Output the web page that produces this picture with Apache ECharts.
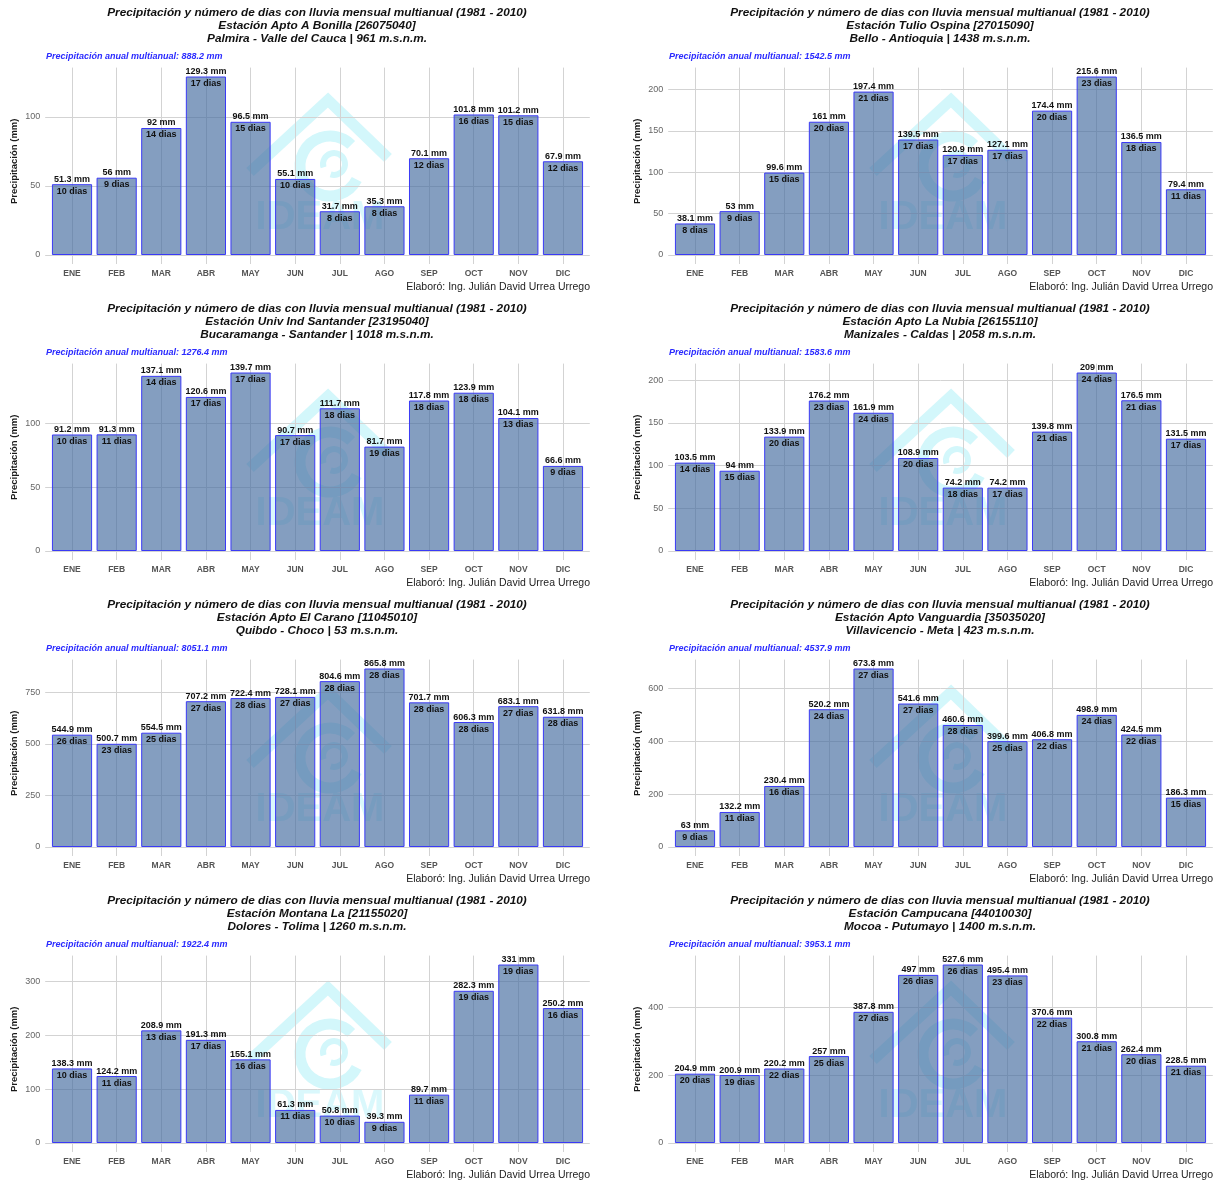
<!DOCTYPE html>
<html><head><meta charset="utf-8">
<script src="https://cdn.jsdelivr.net/npm/echarts@6/dist/echarts.min.js"></script>
<style>html,body{margin:0;padding:0;background:#fff}#c{width:1221px;height:1181px}</style>
</head><body><div id="c"></div><script>
const months = ['ENE','FEB','MAR','ABR','MAY','JUN','JUL','AGO','SEP','OCT','NOV','DIC'];

const bonilla_mm   = [51.3, 56, 92, 129.3, 96.5, 55.1, 31.7, 35.3, 70.1, 101.8, 101.2, 67.9];
const bonilla_days = [10, 9, 14, 17, 15, 10, 8, 8, 12, 16, 15, 12];
const ospina_mm    = [38.1, 53, 99.6, 161, 197.4, 139.5, 120.9, 127.1, 174.4, 215.6, 136.5, 79.4];
const ospina_days  = [8, 9, 15, 20, 21, 17, 17, 17, 20, 23, 18, 11];
const uis_mm       = [91.2, 91.3, 137.1, 120.6, 139.7, 90.7, 111.7, 81.7, 117.8, 123.9, 104.1, 66.6];
const uis_days     = [10, 11, 14, 17, 17, 17, 18, 19, 18, 18, 13, 9];
const nubia_mm     = [103.5, 94, 133.9, 176.2, 161.9, 108.9, 74.2, 74.2, 139.8, 209, 176.5, 131.5];
const nubia_days   = [14, 15, 20, 23, 24, 20, 18, 17, 21, 24, 21, 17];
const carano_mm    = [544.9, 500.7, 554.5, 707.2, 722.4, 728.1, 804.6, 865.8, 701.7, 606.3, 683.1, 631.8];
const carano_days  = [26, 23, 25, 27, 28, 27, 28, 28, 28, 28, 27, 28];
const vanguardia_mm   = [63, 132.2, 230.4, 520.2, 673.8, 541.6, 460.6, 399.6, 406.8, 498.9, 424.5, 186.3];
const vanguardia_days = [9, 11, 16, 24, 27, 27, 28, 25, 22, 24, 22, 15];
const montana_mm   = [138.3, 124.2, 208.9, 191.3, 155.1, 61.3, 50.8, 39.3, 89.7, 282.3, 331, 250.2];
const montana_days = [10, 11, 13, 17, 16, 11, 10, 9, 11, 19, 19, 16];
const campucana_mm   = [204.9, 200.9, 220.2, 257, 387.8, 497, 527.6, 495.4, 370.6, 300.8, 262.4, 228.5];
const campucana_days = [20, 19, 22, 25, 27, 26, 26, 23, 22, 21, 20, 21];

const stationNames = ['Estación Apto A Bonilla [26075040]','Estación Tulio Ospina [27015090]','Estación Univ Ind Santander [23195040]','Estación Apto La Nubia [26155110]','Estación Apto El Carano [11045010]','Estación Apto Vanguardia [35035020]','Estación Montana La [21155020]','Estación Campucana [44010030]'];
const stationPlaces = ['Palmira - Valle del Cauca | 961 m.s.n.m.','Bello - Antioquia | 1438 m.s.n.m.','Bucaramanga - Santander | 1018 m.s.n.m.','Manizales - Caldas | 2058 m.s.n.m.','Quibdo - Choco | 53 m.s.n.m.','Villavicencio - Meta | 423 m.s.n.m.','Dolores - Tolima | 1260 m.s.n.m.','Mocoa - Putumayo | 1400 m.s.n.m.'];
const annualTotals = ['888.2','1542.5','1276.4','1583.6','8051.1','4537.9','1922.4','3953.1'];
const mmSeries = [bonilla_mm, ospina_mm, uis_mm, nubia_mm, carano_mm, vanguardia_mm, montana_mm, campucana_mm];
const daySeries = [bonilla_days, ospina_days, uis_days, nubia_days, carano_days, vanguardia_days, montana_days, campucana_days];
const yTickSteps = [50, 50, 50, 50, 250, 200, 100, 200];

const mainTitle = 'Precipitación y número de dias con lluvia mensual multianual (1981 - 2010)';
const footerText = 'Elaboró: Ing. Julián David Urrea Urrego';
const FONT = '"Liberation Sans", Arial, sans-serif';
const GRIDC = '#d3d3d3';
const halfPoints = Array.from({length: 25}, () => '');

const grid = [], xAxis = [], yAxis = [], series = [], graphic = [];

for (let p = 0; p < 8; p++) {
  const col = p % 2, row = Math.floor(p / 2);
  const ox = col * 623, oy = row * 296;
  const mm = mmSeries[p], days = daySeries[p];
  const step = yTickSteps[p];
  const ymax = Math.max(...mm) * 1.05;
  const nTicks = Math.floor(ymax / step) + 1;
  const splitColors = Array(nTicks).fill(GRIDC).concat(['rgba(0,0,0,0)']);
  const top = oy + 67.6, height = 187.4;
  const gA = grid.length;
  grid.push({left: ox + 45.2, width: 544.6, top: top, height: height, containLabel: false});
  grid.push({left: ox + 49.7, width: 535.6, top: top, height: height, containLabel: false});
  const gB = gA + 1;
  xAxis.push({gridIndex: gA, type: 'value', min: 0, max: 1, show: false});
  yAxis.push({gridIndex: gA, type: 'value', min: 0, max: ymax, interval: step,
    name: 'Precipitación (mm)', nameLocation: 'middle', nameGap: 26,
    nameTextStyle: {fontFamily: FONT, fontWeight: 'bold', fontSize: 9.5, color: '#1a1a1a'},
    axisLine: {show: false}, axisTick: {show: false},
    axisLabel: {showMaxLabel: false, fontFamily: FONT, fontSize: 9, color: '#666', margin: 5},
    splitLine: {show: true, lineStyle: {color: splitColors, width: 1}}});
  const xB = xAxis.length;
  xAxis.push({gridIndex: gB, type: 'category', data: months, position: 'bottom',
    axisLine: {show: false}, axisTick: {show: false}, splitLine: {show: false},
    axisLabel: {fontFamily: FONT, fontWeight: 'bold', fontSize: 8.5, color: '#555', margin: 14}});
  xAxis.push({gridIndex: gB, type: 'category', data: halfPoints, boundaryGap: false, position: 'bottom',
    axisLine: {show: false}, axisLabel: {show: false},
    axisTick: {show: true, length: 9, interval: (i) => i % 2 === 1, lineStyle: {color: GRIDC}},
    splitLine: {show: true, interval: (i) => i % 2 === 1, lineStyle: {color: GRIDC, width: 1}}});
  const yB = yAxis.length;
  yAxis.push({gridIndex: gB, type: 'value', min: 0, max: ymax, interval: step, show: false, splitLine: {show: false}});

  series.push({type: 'bar', xAxisIndex: xB, yAxisIndex: yB, data: mm, barCategoryGap: '10%', z: 3,
    itemStyle: {color: 'rgba(66,106,158,0.65)', borderColor: '#3a3af5', borderWidth: 1},
    label: {show: true, position: 'top', distance: 0, offset: [0, 13],
      formatter: (prm) => '{a|' + prm.value + ' mm}\n{b|' + days[prm.dataIndex] + ' dias}',
      rich: {
        a: {fontFamily: FONT, fontWeight: 'bold', fontSize: 9, lineHeight: 12, color: '#111'},
        b: {fontFamily: FONT, fontWeight: 'bold', fontSize: 9, lineHeight: 12, color: '#111'}
      }}
  });

  const wc = '#d3f7fb';
  graphic.push({type: 'group', x: ox, y: oy, z: 1, silent: true, children: [
    {type: 'polyline', shape: {points: [[250, 172], [328, 100], [388, 158]]}, style: {stroke: wc, lineWidth: 11, fill: null, lineJoin: 'miter'}},
    {type: 'arc', shape: {cx: 330, cy: 166, r: 30, startAngle: Math.PI * 0.15, endAngle: Math.PI * 1.75}, style: {stroke: wc, lineWidth: 11, fill: null}},
    {type: 'arc', shape: {cx: 334, cy: 164, r: 11, startAngle: Math.PI * 0.9, endAngle: Math.PI * 2.6}, style: {stroke: wc, lineWidth: 6, fill: null}},
    {type: 'text', x: 320, y: 218, style: {text: 'IDEAM', font: 'bold 40px ' + FONT, fill: wc, textAlign: 'center', textVerticalAlign: 'middle', opacity: 0.85}}
  ]});
  graphic.push({type: 'group', x: ox, y: oy, z: 10, silent: true, children: [
    {type: 'text', x: 317, y: 13, style: {text: mainTitle, font: 'italic bold 11.8px ' + FONT, fill: '#111', textAlign: 'center', textVerticalAlign: 'middle'}},
    {type: 'text', x: 317, y: 26, style: {text: stationNames[p], font: 'italic bold 11.8px ' + FONT, fill: '#111', textAlign: 'center', textVerticalAlign: 'middle'}},
    {type: 'text', x: 317, y: 38.5, style: {text: stationPlaces[p], font: 'italic bold 11.8px ' + FONT, fill: '#111', textAlign: 'center', textVerticalAlign: 'middle'}},
    {type: 'text', x: 46, y: 57, style: {text: 'Precipitación anual multianual: ' + annualTotals[p] + ' mm', font: 'italic bold 9px ' + FONT, fill: '#2a2aff', textAlign: 'left', textVerticalAlign: 'middle'}},
    {type: 'text', x: 590, y: 287, style: {text: footerText, font: '10.5px ' + FONT, fill: '#222', textAlign: 'right', textVerticalAlign: 'middle'}}
  ]});
}

const chart = echarts.init(document.getElementById('c'), null, {renderer: 'canvas'});
chart.setOption({backgroundColor: '#fff', animation: false, grid, xAxis, yAxis, series, graphic});
</script></body></html>
